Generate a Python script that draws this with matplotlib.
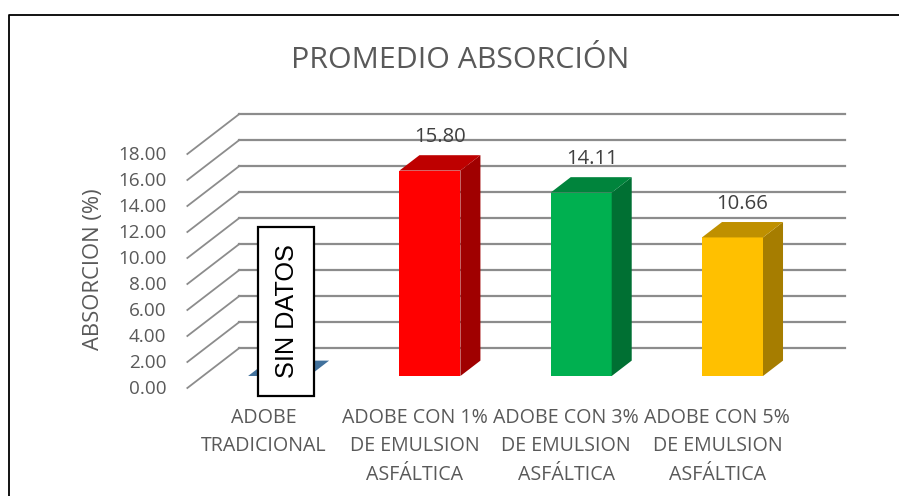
import matplotlib
matplotlib.use("Agg")
import matplotlib.pyplot as plt

categories = ["ADOBE\nTRADICIONAL", "ADOBE CON 1%\nDE EMULSION\nASFÁLTICA",
              "ADOBE CON 3%\nDE EMULSION\nASFÁLTICA", "ADOBE CON 5%\nDE EMULSION\nASFÁLTICA"]
values = [0.0, 15.80, 14.11, 10.66]
value_labels = ["", "15.80", "14.11", "10.66"]
y_ticks = [0, 2, 4, 6, 8, 10, 12, 14, 16, 18]

front_colors = ["#4A7EBB", "#FF0000", "#00B050", "#FFC000"]
side_colors = ["#376092", "#A00000", "#007033", "#A67D00"]
top_colors = ["#41719C", "#BE0000", "#00843C", "#BF9000"]

W, H = 899, 496
PX_X = 151.3   # pixels per category
PX_Y = 13.0    # pixels per axis unit
X0, Y0 = 263.0, 388.0  # pixel of category 0 / value 0 on the front floor edge
DEPTH_X, DEPTH_Y = 52 / PX_X, 40 / PX_Y  # floor depth in data units
BAR_W = 61 / PX_X
BAR_D0, BAR_D1 = 0.30, 0.685  # bar front/back as a fraction of the floor depth

plt.rcParams["font.family"] = ["Open Sans", "DejaVu Sans"]
fig = plt.figure(figsize=(W / 100, H / 100), dpi=100)
ax = fig.add_axes([0, 0, 1, 1])
ax.set_xlim(-X0 / PX_X, (W - X0) / PX_X)
ax.set_ylim((Y0 - H) / PX_Y, Y0 / PX_Y)
ax.axis("off")


def proj(x, v, d):
    return x + d * DEPTH_X, v + d * DEPTH_Y


def px(x, y):
    # figure pixel position, for the frame and titles
    return x / W, 1 - y / H


# outer frame, open at the bottom and on the right
fig.add_artist(plt.Line2D([9 / W, 9 / W, 1], [0, 1 - 15 / H, 1 - 15 / H],
                          color="black", lw=1.3))

# gridlines on the side wall and the back wall
for t in y_ticks:
    p0 = proj(-0.5, t, 0)
    p1 = proj(-0.5, t, 1)
    ax.plot([p0[0], p1[0]], [p0[1], p1[1]], color="#8C8C8C", lw=1.3, zorder=1)
    ax.plot([p1[0], 3.5 + DEPTH_X], [p1[1], p1[1]], color="#8C8C8C", lw=1.6, zorder=1)
    ax.text(-0.5 - 21 / PX_X, t - 1 / PX_Y, f"{t:.2f}", ha="right", va="center", fontsize=13.6, color="#595959")

# bars
for i, v in enumerate(values):
    xl, xr = i - BAR_W / 2, i + BAR_W / 2
    base = BAR_D0 * DEPTH_Y
    ax.bar(i + BAR_D0 * DEPTH_X, v, width=BAR_W, bottom=base, color=front_colors[i], zorder=3)
    a = proj(xr, v, BAR_D0)
    b = proj(xr, v, BAR_D1)
    c = proj(xr, 0, BAR_D1)
    d = proj(xr, 0, BAR_D0)
    ax.fill([a[0], b[0], c[0], d[0]], [a[1], b[1], c[1], d[1]], color=side_colors[i], lw=0, zorder=3)
    e = proj(xl, v, BAR_D0)
    f = proj(xl, v, BAR_D1)
    ax.fill([e[0], f[0], b[0], a[0]], [e[1], f[1], b[1], a[1]], color=top_colors[i], lw=0, zorder=3)

# value labels
label_dx = [0, -10, -9.5, -10]
for i, v in enumerate(values):
    if value_labels[i]:
        lx, ly = proj(i + BAR_W / 2, v, BAR_D1)
        ax.text(lx - BAR_W / 2 + label_dx[i] / PX_X, ly + 18 / PX_Y, value_labels[i],
                ha="center", va="center", fontsize=14.6, color="#404040", zorder=5)

# category labels
for i, c in enumerate(categories):
    ax.text(i + 0.5 / PX_X, -1.51, c, ha="center", va="top", fontsize=14.1, color="#595959",
            linespacing=1.57, zorder=5)

fig.text(*px(460, 60), "PROMEDIO ABSORCIÓN", ha="center", va="center", fontsize=21.8, color="#595959")
fig.text(*px(94, 269), "ABSORCION (%)", ha="center", va="center", rotation=90, fontsize=15.8, color="#595959")

# text box drawn over the empty first bar
fig.add_artist(plt.Rectangle((257.5 / W, 1 - 396 / H), 56 / W, 169 / H, facecolor="white",
                             edgecolor="black", lw=1.6, zorder=6))
fig.text(*px(286.5, 311), "SIN DATOS", ha="center", va="center", rotation=90, fontsize=18.2,
         family="Liberation Sans", color="black", zorder=7)

fig.savefig("out.png", dpi=100)
